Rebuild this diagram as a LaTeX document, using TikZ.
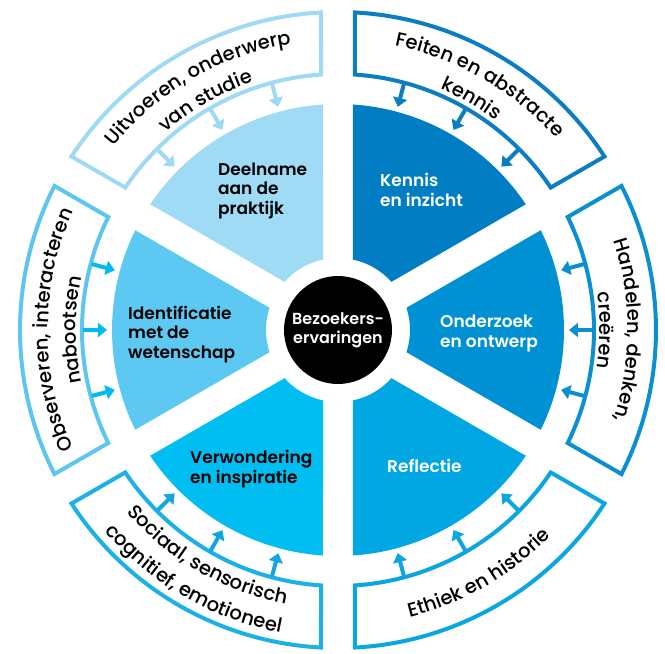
\documentclass[tikz,border=0pt]{standalone}
\usepackage{fontspec}
\setmainfont{Poppins}
\newfontfamily\semib{Poppins SemiBold}
\newfontfamily\medf{Poppins Medium}
\usetikzlibrary{arrows.meta,decorations.text}
\definecolor{cA}{HTML}{A0DBF5}
\definecolor{cB}{HTML}{5DC8F2}
\definecolor{cC}{HTML}{00BDF2}
\definecolor{cD}{HTML}{00A7E3}
\definecolor{cE}{HTML}{0091D4}
\definecolor{cF}{HTML}{007DC3}
\definecolor{bA}{HTML}{9FD9F4}
\definecolor{bB}{HTML}{5CC6F1}
\definecolor{bC}{HTML}{1BB0E8}
\definecolor{bD}{HTML}{0BA5E1}
\definecolor{bE}{HTML}{0C8FD2}
\definecolor{bF}{HTML}{0B7DC2}
\definecolor{aB}{HTML}{00BBF0}
\definecolor{aC}{HTML}{12A5E2}
\newcommand{\ringfnt}{\medf\fontsize{19.5}{22}\selectfont}
\newcommand{\labfnt}{\semib\fontsize{17}{19.5}\selectfont}
\newcommand{\hubfnt}{\semib\fontsize{16}{19}\selectfont}
% sector: start angle, end angle, colour
\newcommand{\mysector}[3]{%
  \fill[#3] ({#1+3.806}:226) arc[start angle={#1+3.806}, end angle={#2-3.806}, radius=226]
    -- ({#2-12.02}:72) arc[start angle={#2-12.02}, end angle={#1+12.02}, radius=72] -- cycle;}
% outer band: start angle, end angle, colour
\newcommand{\myband}[3]{%
  \draw[bandline, draw=#3] ({#1+3.807}:256) -- ({#1+3.065}:318)
    arc[start angle={#1+3.065}, end angle={#2-3.065}, radius=318]
    -- ({#2-3.807}:256) arc[start angle={#2-3.807}, end angle={#1+3.807}, radius=256] -- cycle;}
% three arrows: centre angle, colour
\newcommand{\myarrows}[2]{%
  \foreach \t in {-15,0,15} \draw[inarrow, #2] ({#1+\t}:255) -- ({#1+\t}:231);}
% text on an arc: start angle, end angle, radius, text
\newcommand{\ringtext}[4]{%
  \path[decorate, decoration={text along path, text align=center, text={|\ringfnt|#4}}]
    (#1:#3) arc[start angle=#1, end angle=#2, radius=#3];}
\tikzset{
  bandline/.style={line width=4pt, fill=white, line join=miter},
  inarrow/.style={line width=4pt, -{Triangle[length=9pt, width=14pt]}},
  lab/.style={anchor=base west, align=left, inner sep=0pt, font=\labfnt},
}
\begin{document}
\begin{tikzpicture}[x=1pt, y=1pt]
\useasboundingbox (-338,-324) rectangle (327,330);
% inner sectors
\mysector{30}{90}{cF}
\mysector{90}{150}{cA}
\mysector{150}{210}{cB}
\mysector{210}{270}{cC}
\mysector{270}{330}{cD}
\mysector{-30}{30}{cE}
% outer bands
\myband{30}{90}{bF}
\myband{90}{150}{bA}
\myband{150}{210}{bB}
\myband{210}{270}{bC}
\myband{270}{330}{bD}
\myband{-30}{30}{bE}
% arrows
\myarrows{60}{bF}
\myarrows{120}{bA}
\myarrows{180}{aB}
\myarrows{240}{aC}
\myarrows{300}{bD}
\myarrows{0}{bE}
% hub
\node[circle, fill=black, minimum size=108pt, inner sep=0pt, text=white, align=center, font=\hubfnt] (hub) at (0,0) {Bezoekers-\\ervaringen};
% sector labels (anchor at baseline of last line)
\node[lab, text=black] (deel) at (-120,116) {Deelname\\aan de\\praktijk};
\node[lab, text=white] (kennis) at (42,124) {Kennis\\en inzicht};
\node[lab, text=black] (ident) at (-210,-28) {Identificatie\\met de\\wetenschap};
\node[lab, text=white] (onderz) at (102,-17) {Onderzoek\\en ontwerp};
\node[lab, text=black] (verw) at (-148,-153) {Verwondering\\en inspiratie};
\node[lab, text=white] (refl) at (49,-142) {Reflectie};
% band texts
\ringtext{95}{25}{290}{Feiten en abstracte}
\ringtext{95}{25}{262}{kennis}
\ringtext{155}{85}{290}{Uitvoeren, onderwerp}
\ringtext{155}{85}{262}{van studie}
\ringtext{35}{-35}{290}{Handelen, denken,}
\ringtext{35}{-35}{262}{creëren}
\ringtext{215}{145}{290}{Observeren, interacteren}
\ringtext{215}{145}{262}{nabootsen}
\ringtext{265}{335}{296}{Ethiek en historie}
\ringtext{205}{275}{279}{Sociaal, sensorisch}
\ringtext{205}{275}{308}{cognitief, emotioneel}
\end{tikzpicture}
\end{document}
